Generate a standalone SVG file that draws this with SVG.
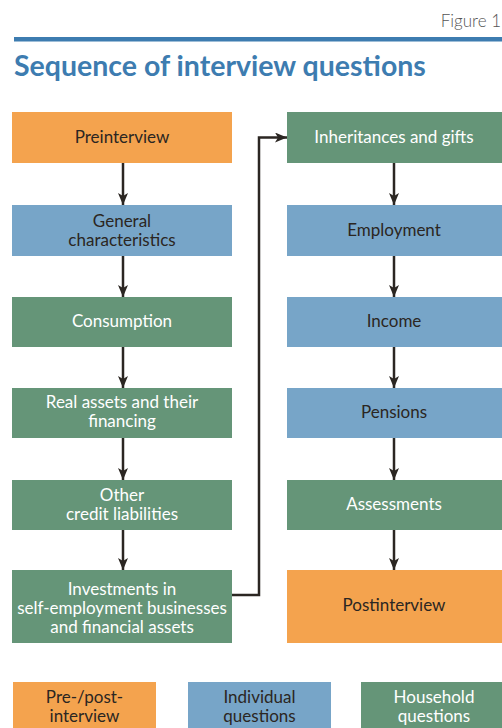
<svg xmlns="http://www.w3.org/2000/svg" width="502" height="728" viewBox="0 0 502 728">
<style>
text{font-family:"Lato","Liberation Sans",sans-serif;font-size:17px;text-anchor:middle}
.o{fill:#f4a34e}.b{fill:#77a5c8}.g{fill:#659578}
.dk{fill:#2b2622}.wt{fill:#ffffff}
.c{stroke:#2b2622;stroke-width:2.5;fill:none}
</style>
<defs>
<marker id="ah" viewBox="0 0 12 10" refX="12" refY="5" markerWidth="12" markerHeight="10" markerUnits="userSpaceOnUse" orient="auto">
<path d="M0,0 L12,5 L0,10 L3,5 Z" fill="#2b2622"/>
</marker>
</defs>
<text x="501" y="27" style="text-anchor:end;font-size:17px;fill:#555;font-weight:300">Figure 1</text>
<rect x="14" y="37" width="488" height="4.5" fill="#3d7cb0"/>
<text x="14" y="76" style="text-anchor:start;font-size:28.5px;font-weight:bold;fill:#3d7cb0">Sequence of interview questions</text>

<g id="preinterview"><rect class="o" x="12" y="112" width="220" height="51"/><text class="dk" x="122" y="143">Preinterview</text></g>
<g id="general"><rect class="b" x="12" y="205" width="220" height="51"/><text class="dk" x="122" y="227">General</text><text class="dk" x="122" y="246">characteristics</text></g>
<g id="consumption"><rect class="g" x="12" y="297" width="220" height="50"/><text class="wt" x="122" y="327">Consumption</text></g>
<g id="realassets"><rect class="g" x="12" y="388" width="220" height="50"/><text class="wt" x="122" y="408">Real assets and their</text><text class="wt" x="122" y="427">financing</text></g>
<g id="othercredit"><rect class="g" x="12" y="480" width="220" height="50"/><text class="wt" x="122" y="501">Other</text><text class="wt" x="122" y="520">credit liabilities</text></g>
<g id="investments"><rect class="g" x="12" y="570" width="220" height="73"/><text class="wt" x="122" y="595">Investments in</text><text class="wt" x="122" y="614">self-employment businesses</text><text class="wt" x="122" y="633">and financial assets</text></g>

<g id="inheritances"><rect class="g" x="287" y="112" width="215" height="51"/><text class="wt" x="394" y="143">Inheritances and gifts</text></g>
<g id="employment"><rect class="b" x="287" y="205" width="215" height="51"/><text class="dk" x="394" y="236">Employment</text></g>
<g id="income"><rect class="b" x="287" y="297" width="215" height="50"/><text class="dk" x="394" y="327">Income</text></g>
<g id="pensions"><rect class="b" x="287" y="388" width="215" height="50"/><text class="dk" x="394" y="418">Pensions</text></g>
<g id="assessments"><rect class="g" x="287" y="480" width="215" height="50"/><text class="wt" x="394" y="510">Assessments</text></g>
<g id="postinterview"><rect class="o" x="287" y="570" width="215" height="73"/><text class="dk" x="394" y="611">Postinterview</text></g>

<g id="legend-prepost"><rect class="o" x="13" y="682" width="143" height="46"/><text class="dk" x="84.5" y="703">Pre-/post-</text><text class="dk" x="84.5" y="722">interview</text></g>
<g id="legend-individual"><rect class="b" x="188" y="682" width="143" height="46"/><text class="dk" x="259.5" y="703">Individual</text><text class="dk" x="259.5" y="722">questions</text></g>
<g id="legend-household"><rect class="g" x="361" y="682" width="141" height="46"/><text class="wt" x="434" y="703">Household</text><text class="wt" x="434" y="722">questions</text></g>

<g id="connectors">
<line class="c" x1="123" y1="163" x2="123" y2="205" marker-end="url(#ah)"/>
<line class="c" x1="123" y1="256" x2="123" y2="297" marker-end="url(#ah)"/>
<line class="c" x1="123" y1="347" x2="123" y2="388" marker-end="url(#ah)"/>
<line class="c" x1="123" y1="438" x2="123" y2="480" marker-end="url(#ah)"/>
<line class="c" x1="123" y1="530" x2="123" y2="570" marker-end="url(#ah)"/>
<polyline class="c" points="232,595 259,595 259,137.5 287,137.5" marker-end="url(#ah)"/>
<line class="c" x1="394" y1="163" x2="394" y2="205" marker-end="url(#ah)"/>
<line class="c" x1="394" y1="256" x2="394" y2="297" marker-end="url(#ah)"/>
<line class="c" x1="394" y1="347" x2="394" y2="388" marker-end="url(#ah)"/>
<line class="c" x1="394" y1="438" x2="394" y2="480" marker-end="url(#ah)"/>
<line class="c" x1="394" y1="530" x2="394" y2="570" marker-end="url(#ah)"/>
</g>
</svg>
